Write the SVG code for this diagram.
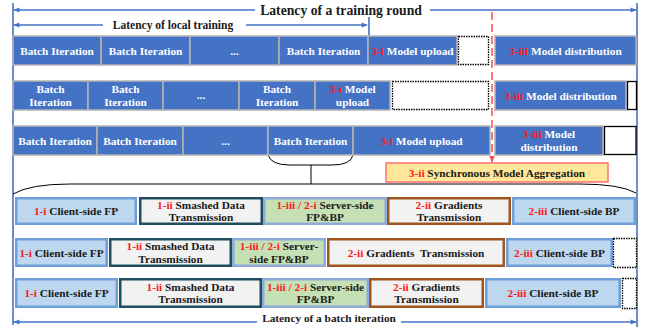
<svg xmlns="http://www.w3.org/2000/svg" width="647" height="331" viewBox="0 0 647 331">
<defs>
<style>
text{font-family:"Liberation Serif","Times New Roman",serif;font-weight:bold;font-size:11.3px;text-anchor:middle}
.w{fill:#fff}
.k{fill:#1a1a1a}
.r{fill:#ff1a1a}
.bb{fill:#4472c4;stroke:#b4b4b4;stroke-width:1.5}
.wd{fill:#fff;stroke:#000;stroke-width:1.3;stroke-dasharray:1.5 1}
.ws{fill:#fff;stroke:#000;stroke-width:1.3}
.c1{fill:#bdd7ee;stroke:#6f9fd8;stroke-width:2.5}
.c2{fill:#f2f2f2;stroke:#1f4e5f;stroke-width:2.5}
.c3{fill:#c5e0b4;stroke:#8eaadb;stroke-width:2.5}
.c4{fill:#f2f2f2;stroke:#9e5520;stroke-width:2.5}
.ag{fill:#ffe699;stroke:#ff7070;stroke-width:1.5}
.bl{stroke:#4472c4;stroke-width:1.6;fill:none}
.br{stroke:#000;stroke-width:1;fill:none}
</style>
<marker id="ab" viewBox="0 0 10 10" refX="9" refY="5" markerWidth="7" markerHeight="6" orient="auto-start-reverse" markerUnits="userSpaceOnUse"><path d="M0,1 L10,5 L0,9 z" fill="#4472c4"/></marker>
<marker id="ar" viewBox="0 0 10 10" refX="9" refY="5" markerWidth="7" markerHeight="7" orient="auto" markerUnits="userSpaceOnUse"><path d="M0,1 L10,5 L0,9 z" fill="#ff4b4b"/></marker>
</defs>
<rect width="647" height="331" fill="#fff"/>

<g id="connectors">
<line class="bl" x1="13" y1="3" x2="13" y2="325"/>
<line class="bl" x1="637" y1="3" x2="637" y2="327"/>
<line class="bl" x1="255" y1="10" x2="14" y2="10" marker-end="url(#ab)"/>
<line class="bl" x1="430" y1="10" x2="636" y2="10" marker-end="url(#ab)"/>
<line class="bl" x1="103" y1="25" x2="14" y2="25" marker-end="url(#ab)"/>
<line class="bl" x1="246" y1="25" x2="367" y2="25" marker-end="url(#ab)"/>
<line class="bl" x1="369" y1="17" x2="369" y2="36"/>
<line class="bl" x1="257" y1="322" x2="14" y2="322" marker-end="url(#ab)"/>
<line class="bl" x1="401" y1="322" x2="636" y2="322" marker-end="url(#ab)"/>
<line x1="492" y1="12" x2="492" y2="162" stroke="#ff4b4b" stroke-width="1.5" stroke-dasharray="8 4" marker-end="url(#ar)"/>
<path class="br" d="M268,155 Q271,165 290,165 L332,165 Q351,165 353,155"/>
<line class="br" x1="311" y1="165" x2="311" y2="184"/>
<path class="br" d="M13,194 Q30,184 70,184 L580,184 Q620,184 636,193"/>
</g>

<g id="labels">
<text x="341" y="15" style="font-size:13.7px" class="k">Latency of a training round</text>
<text x="173" y="29" style="font-size:11.5px" class="k">Latency of local training</text>
<text x="329" y="322" style="font-size:11.3px" class="k">Latency of a batch iteration</text>
</g>

<!-- Row 1 -->
<g id="r1-b1"><rect class="bb" x="13" y="36" width="88" height="29"/><text class="w" x="57" y="54.5">Batch Iteration</text></g>
<g id="r1-b2"><rect class="bb" x="101" y="36" width="89" height="29"/><text class="w" x="145.5" y="54.5">Batch Iteration</text></g>
<g id="r1-b3"><rect class="bb" x="190" y="36" width="89" height="29"/><text class="w" x="234.5" y="54.5">...</text></g>
<g id="r1-b4"><rect class="bb" x="279" y="36" width="89" height="29"/><text class="w" x="323.5" y="54.5">Batch Iteration</text></g>
<g id="r1-up"><rect class="bb" x="368" y="36" width="89" height="29"/><text class="w" x="412.5" y="54.5"><tspan class="r">3-i</tspan> Model upload</text></g>
<g id="r1-idle"><rect class="wd" x="458.5" y="36.5" width="30" height="28"/></g>
<g id="r1-dist"><rect class="bb" x="495" y="36" width="141" height="29"/><text class="w" x="565.5" y="54.5"><tspan class="r">3-iii</tspan> Model distribution</text></g>

<!-- Row 2 -->
<g id="r2-b1"><rect class="bb" x="13" y="81" width="75" height="29"/><text class="w" x="50.5" y="93">Batch</text><text class="w" x="50.5" y="106">Iteration</text></g>
<g id="r2-b2"><rect class="bb" x="88" y="81" width="75" height="29"/><text class="w" x="125.5" y="93">Batch</text><text class="w" x="125.5" y="106">Iteration</text></g>
<g id="r2-b3"><rect class="bb" x="163" y="81" width="76" height="29"/><text class="w" x="201" y="99">...</text></g>
<g id="r2-b4"><rect class="bb" x="239" y="81" width="76" height="29"/><text class="w" x="277" y="93">Batch</text><text class="w" x="277" y="106">Iteration</text></g>
<g id="r2-up"><rect class="bb" x="315" y="81" width="75" height="29"/><text class="w" x="352.5" y="93"><tspan class="r">3-i</tspan> Model</text><text class="w" x="352.5" y="106">upload</text></g>
<g id="r2-idle"><rect class="wd" x="392.5" y="81.5" width="96" height="28"/></g>
<g id="r2-dist"><rect class="bb" x="495" y="81" width="131" height="29"/><text class="w" x="560.5" y="99.5"><tspan class="r">3-iii</tspan> Model distribution</text></g>
<g id="r2-idle2"><rect class="ws" x="627.5" y="81.5" width="9" height="28"/></g>

<!-- Row 3 -->
<g id="r3-b1"><rect class="bb" x="13" y="126" width="84" height="29"/><text class="w" x="55" y="144.5">Batch Iteration</text></g>
<g id="r3-b2"><rect class="bb" x="97" y="126" width="86" height="29"/><text class="w" x="140" y="144.5">Batch Iteration</text></g>
<g id="r3-b3"><rect class="bb" x="183" y="126" width="85" height="29"/><text class="w" x="225.5" y="144.5">...</text></g>
<g id="r3-b4"><rect class="bb" x="268" y="126" width="85" height="29"/><text class="w" x="310.5" y="144.5">Batch Iteration</text></g>
<g id="r3-up"><rect class="bb" x="353" y="126" width="137" height="29"/><text class="w" x="421.5" y="144.5"><tspan class="r">3-i</tspan> Model upload</text></g>
<g id="r3-dist"><rect class="bb" x="495" y="126" width="108" height="29"/><text class="w" x="549" y="138"><tspan class="r">3-iii</tspan> Model</text><text class="w" x="549" y="151">distribution</text></g>
<g id="r3-idle"><rect class="ws" x="604.5" y="126.5" width="31.5" height="28"/></g>

<!-- Aggregation -->
<g id="agg"><rect class="ag" x="386" y="163" width="222" height="19"/><text class="k" x="497" y="176.5"><tspan class="r">3-ii</tspan> Synchronous Model Aggregation</text></g>

<!-- Row 4 -->
<g id="r4-cfp"><rect class="c1" x="16.25" y="198.25" width="119.5" height="25.5"/><text class="k" x="76" y="215"><tspan class="r">1-i</tspan> Client-side FP</text></g>
<g id="r4-sdt"><rect class="c2" x="140.25" y="198.25" width="121.5" height="25.5"/><text class="k" x="201" y="208.5"><tspan class="r">1-ii</tspan> Smashed Data</text><text class="k" x="201" y="221">Transmission</text></g>
<g id="r4-srv"><rect class="c3" x="264.25" y="198.25" width="121.5" height="25.5"/><text class="k" x="325" y="208.5"><tspan class="r">1-iii / 2-i</tspan> Server-side</text><text class="k" x="325" y="221">FP&amp;BP</text></g>
<g id="r4-gt"><rect class="c4" x="388.25" y="198.25" width="121.5" height="25.5"/><text class="k" x="449" y="208.5"><tspan class="r">2-ii</tspan> Gradients</text><text class="k" x="449" y="221">Transmission</text></g>
<g id="r4-cbp"><rect class="c1" x="513.25" y="198.25" width="121.5" height="25.5"/><text class="k" x="574" y="215"><tspan class="r">2-iii</tspan> Client-side BP</text></g>

<!-- Row 5 -->
<g id="r5-cfp"><rect class="c1" x="16.25" y="239.25" width="90.5" height="26.5"/><text class="k" x="61.5" y="256.5"><tspan class="r">1-i</tspan> Client-side FP</text></g>
<g id="r5-sdt"><rect class="c2" x="110.25" y="239.25" width="120.5" height="26.5"/><text class="k" x="170.5" y="250"><tspan class="r">1-ii</tspan> Smashed Data</text><text class="k" x="170.5" y="262.5">Transmission</text></g>
<g id="r5-srv"><rect class="c3" x="233.25" y="239.25" width="91.5" height="26.5"/><text class="k" x="279" y="250"><tspan class="r">1-iii / 2-i</tspan> Server-</text><text class="k" x="279" y="262.5">side FP&amp;BP</text></g>
<g id="r5-gt"><rect class="c4" x="328.25" y="239.25" width="175.5" height="26.5"/><text class="k" x="416" y="256.5" xml:space="preserve"><tspan class="r">2-ii</tspan> Gradients  Transmission</text></g>
<g id="r5-cbp"><rect class="c1" x="507.25" y="239.25" width="104.5" height="26.5"/><text class="k" x="559.5" y="256.5"><tspan class="r">2-iii</tspan> Client-side BP</text></g>
<g id="r5-idle"><rect class="wd" x="613.5" y="238.5" width="23" height="29"/></g>

<!-- Row 6 -->
<g id="r6-cfp"><rect class="c1" x="16.25" y="279.25" width="100.5" height="27.5"/><text class="k" x="66.5" y="297"><tspan class="r">1-i</tspan> Client-side FP</text></g>
<g id="r6-sdt"><rect class="c2" x="120.25" y="279.25" width="140.5" height="27.5"/><text class="k" x="190.5" y="290.5"><tspan class="r">1-ii</tspan> Smashed Data</text><text class="k" x="190.5" y="303">Transmission</text></g>
<g id="r6-srv"><rect class="c3" x="263.25" y="279.25" width="104.5" height="27.5"/><text class="k" x="315.5" y="290.5"><tspan class="r">1-iii / 2-i</tspan> Server-side</text><text class="k" x="315.5" y="303">FP&amp;BP</text></g>
<g id="r6-gt"><rect class="c4" x="370.25" y="279.25" width="112.5" height="27.5"/><text class="k" x="426.5" y="290.5"><tspan class="r">2-ii</tspan> Gradients</text><text class="k" x="426.5" y="303">Transmission</text></g>
<g id="r6-cbp"><rect class="c1" x="486.25" y="279.25" width="133.5" height="27.5"/><text class="k" x="553" y="297"><tspan class="r">2-iii</tspan> Client-side BP</text></g>
<g id="r6-idle"><rect class="wd" x="622.5" y="278.5" width="14" height="30"/></g>
</svg>
